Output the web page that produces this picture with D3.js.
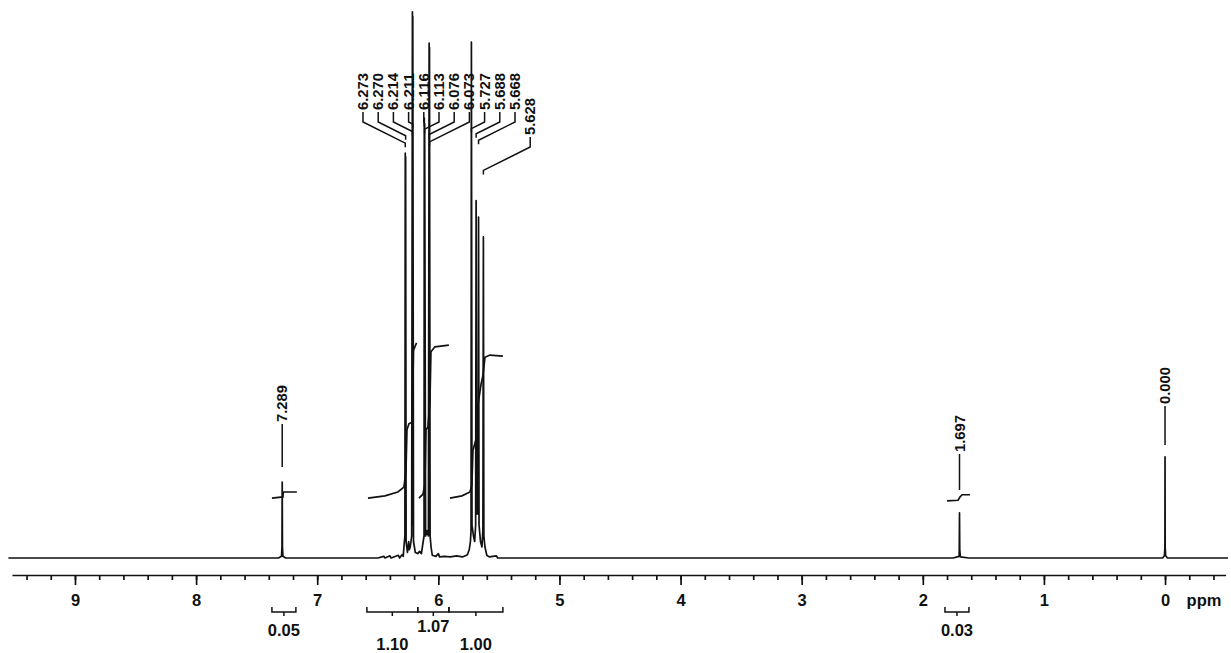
<!DOCTYPE html>
<html lang="en">

<head>
    <meta charset="UTF-8">
    <title>1H NMR spectrum</title>
    <script src="https://d3js.org/d3.v7.min.js"></script>
    <style type="text/css">
        body {
            margin: 0;
            background: #fff;
        }

        svg text {
            font-family: "Liberation Sans", Arial, Helvetica, sans-serif;
            font-weight: bold;
            fill: #111;
        }
    </style>
</head>

<body>
    <div id="chartArea"></div>
    <script type="text/javascript">
        // spectrum trace, [ppm, intensity] (baseline = 0)
        var trace = [
            [9.55, 0], [7.32, 0], [7.295, 0.3], [7.291, 2], [7.289, 13.8], [7.287, 2], [7.283, 0.3], [7.26, 0],
            [6.50, 0], [6.45, 0.3], [6.44, 0], [6.40, 0.4], [6.39, 0], [6.33, 0.5], [6.32, 0], [6.30, 0.6],
            [6.29, 0.3], [6.282, 2.5], [6.276, 4], [6.273, 73.6], [6.271, 5], [6.270, 73.0], [6.266, 3],
            [6.255, 1], [6.245, 3], [6.24, 1.5], [6.232, 2], [6.22, 4], [6.214, 99.3], [6.212, 6],
            [6.211, 98.5], [6.205, 3], [6.19, 1], [6.17, 0.8], [6.155, 1.2], [6.14, 0.8], [6.125, 3],
            [6.118, 4], [6.116, 80], [6.114, 5], [6.113, 79], [6.105, 4], [6.095, 5], [6.082, 4],
            [6.076, 93.6], [6.075, 6], [6.073, 92.8], [6.068, 4], [6.06, 2], [6.05, 0.5], [6.02, 0.3],
            [6.00, 0.8], [5.99, 0.2], [5.95, 0.3], [5.90, 0.2], [5.85, 0.4], [5.80, 0.2], [5.76, 0.6],
            [5.745, 1.5], [5.735, 3], [5.730, 5], [5.727, 93.8], [5.722, 6], [5.710, 4], [5.700, 3],
            [5.692, 6], [5.688, 65], [5.684, 8], [5.672, 8], [5.668, 62], [5.664, 6], [5.652, 3],
            [5.640, 2], [5.632, 5], [5.628, 58.4], [5.624, 4], [5.615, 2], [5.60, 0.5], [5.58, 0.2],
            [5.52, 0.4], [5.51, 0], [1.75, 0], [1.70, 0.3], [1.699, 1.5], [1.697, 8.2], [1.695, 1.5],
            [1.69, 0.2], [1.62, 0], [0.02, 0], [0.005, 0.4], [0.001, 2], [0, 18.4], [-0.001, 2],
            [-0.005, 0.4], [-0.02, 0], [-0.52, 0]
        ];

        // integral curves, [ppm, level]
        var integral7289 = [[7.374, 10.9], [7.283, 11.1], [7.280, 12.0], [7.168, 12.0]];
        var integral627 = [[6.581, 10.9], [6.441, 11.3], [6.334, 12.0], [6.284, 12.9], [6.267, 16.0],
            [6.259, 23.3], [6.243, 24.4], [6.218, 24.7], [6.213, 28.7], [6.205, 37.8], [6.180, 39.1]];
        var integral611 = [[6.160, 10.9], [6.127, 11.6], [6.111, 13.3], [6.102, 23.3], [6.086, 23.8],
            [6.069, 28.7], [6.061, 37.5], [6.028, 38.4], [5.913, 38.7]];
        var integral570 = [[5.904, 10.9], [5.805, 11.3], [5.739, 12.0], [5.723, 13.3], [5.714, 19.6],
            [5.690, 21.5], [5.673, 27.8], [5.648, 31.5], [5.631, 33.3], [5.615, 36.5], [5.574, 36.9],
            [5.467, 36.7]];
        var integral1697 = [[1.800, 10.4], [1.709, 10.5], [1.693, 11.1], [1.676, 11.5], [1.610, 11.5]];

        // peak picking labels
        var clusterLabels = ['6.273', '6.270', '6.214', '6.211', '6.116', '6.113', '6.076', '6.073',
            '5.727', '5.688', '5.668', '5.628'];
        var singleLabels = ['7.289', '1.697', '0.000'];

        // integral values under the axis, with their ranges (ppm)
        var integralValues = ['0.05', '1.10', '1.07', '1.00', '0.03'];
        var integralFrom = [7.374, 6.590, 6.170, 5.913, 1.817];
        var integralTo = [7.176, 6.170, 5.913, 5.467, 1.619];
        var integralGroup = [0, 1, 1, 1, 2];

        var majorTicks = [9, 8, 7, 6, 5, 4, 3, 2, 1, 0];
        var minorTicks = d3.range(-0.4, 9.5, 0.2).map(function (d) { return +d.toFixed(1); });

        var W = 1231, H = 653;
        var svg = d3.select('#chartArea').append('svg')
            .attr('width', W)
            .attr('height', H);

        var xScale = d3.scaleLinear().domain([9.52, -0.5]).range([12, 1225.6]);
        var yScale = d3.scaleLinear().domain([0, 100]).range([558, 8]);

        var line = d3.line()
            .x(function (d) { return xScale(d[0]); })
            .y(function (d) { return yScale(d[1]); });

        // spectrum
        svg.append('path')
            .datum(trace)
            .attr('d', line)
            .attr('fill', 'none')
            .attr('stroke', '#111')
            .attr('stroke-width', 1.7)
            .attr('stroke-linejoin', 'round');

        // integral curves
        svg.selectAll('path.integral')
            .data([integral7289, integral627, integral611, integral570, integral1697])
            .enter()
            .append('path')
            .attr('class', 'integral')
            .attr('d', line)
            .attr('fill', 'none')
            .attr('stroke', '#111')
            .attr('stroke-width', 1.7);

        // axis
        var axisY = 575;
        var axisG = svg.append('g')
            .attr('transform', 'translate(0,' + axisY + ')')
            .call(d3.axisBottom(xScale).tickValues(majorTicks).tickSize(10).tickSizeOuter(0)
                .tickPadding(9).tickFormat(d3.format('d')));
        axisG.select('.domain').attr('stroke', '#111').attr('stroke-width', 1.7);
        axisG.selectAll('.tick line').attr('stroke', '#111').attr('stroke-width', 1.7);
        axisG.selectAll('.tick text').attr('font-size', 16.5).attr('fill', '#111')
            .style('font-family', '"Liberation Sans", Arial, sans-serif').style('font-weight', 'bold');

        var minorG = svg.append('g')
            .attr('transform', 'translate(0,' + axisY + ')')
            .call(d3.axisBottom(xScale).tickValues(minorTicks).tickSize(5).tickSizeOuter(0).tickFormat(''));
        minorG.select('.domain').remove();
        minorG.selectAll('.tick line').attr('stroke', '#111').attr('stroke-width', 1.7);

        svg.append('text')
            .attr('x', 1204)
            .attr('y', 606)
            .attr('text-anchor', 'middle')
            .attr('font-size', 16.5)
            .text('ppm');

        // peak labels (rotated)
        function peakLabel(txt, lx, bottom) {
            svg.append('text')
                .attr('transform', 'translate(' + lx + ',' + bottom + ') rotate(-90)')
                .attr('dy', '0.36em')
                .attr('font-size', 14)
                .attr('textLength', 37)
                .attr('lengthAdjust', 'spacingAndGlyphs')
                .text(txt);
        }

        var leader = svg.append('g')
            .attr('fill', 'none')
            .attr('stroke', '#111')
            .attr('stroke-width', 1.5);

        clusterLabels.forEach(function (txt, i) {
            var lx = 363 + i * 15.2;
            var drop = i === clusterLabels.length - 1 ? 25 : 0;
            var bottom = 110 + drop;
            var px = xScale(+txt);
            var kink = bottom + 12;
            var end = kink + 0.5 * Math.abs(lx - px);
            peakLabel(txt, lx, bottom);
            leader.append('path')
                .attr('d', 'M' + lx + ',' + (bottom + 2) + 'V' + kink + 'L' + px + ',' + end + 'V' + (end + 4));
        });

        var singleBottom = [422, 452, 404];
        var singleEnd = [467, 490, 445];
        singleLabels.forEach(function (txt, i) {
            var px = xScale(+txt);
            peakLabel(txt, px, singleBottom[i]);
            leader.append('path')
                .attr('d', 'M' + px + ',' + (singleBottom[i] + 2) + 'V' + singleEnd[i]);
        });

        // integral brackets and values under the axis
        var brY = 612;
        var br = svg.append('g')
            .attr('fill', 'none')
            .attr('stroke', '#111')
            .attr('stroke-width', 1.5);
        integralValues.forEach(function (txt, i) {
            var x0 = xScale(integralFrom[i]), x1 = xScale(integralTo[i]);
            var xc = (x0 + x1) / 2;
            br.append('path').attr('d', 'M' + x0 + ',' + (brY - 5) + 'V' + brY + 'H' + x1 + 'V' + (brY - 5));
            br.append('path').attr('d', 'M' + xc + ',' + brY + 'V' + (brY + 4));
            // stagger values that share one bracket
            var sameGroup = integralGroup.filter(function (g) { return g === integralGroup[i]; }).length > 1;
            var k = integralGroup.indexOf(integralGroup[i]);
            var baseline = 636;
            if (sameGroup) baseline = (i - k) % 2 === 0 ? 650 : 632;
            svg.append('text')
                .attr('x', xc)
                .attr('y', baseline)
                .attr('text-anchor', 'middle')
                .attr('font-size', 16.5)
                .text(txt);
        });
    </script>
</body>

</html>
